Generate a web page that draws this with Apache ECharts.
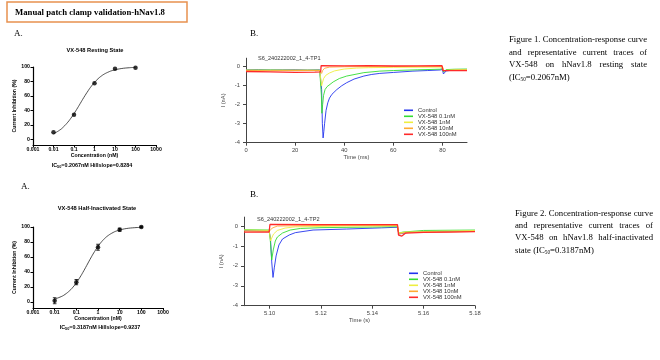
<!DOCTYPE html>
<html><head><meta charset="utf-8">
<script src="https://cdn.jsdelivr.net/npm/echarts@6/dist/echarts.min.js"></script>
<style>html,body{margin:0;padding:0;background:#fff}#c{width:660px;height:360px}</style>
</head><body><div id="c"></div><script>
// ---------- data ----------
const doseTickLabels = ['0.001','0.01','0.1','1','10','100','1000'];
const pctTicks = [0,20,40,60,80,100];
const restConc = [0.01,0.1,1,10,100];
const restInh = [9.5,34,77.5,97.5,99];
const halfConc = [0.01,0.1,1,10,100];
const halfInh = [1.7,26.5,73,96.5,100];
const halfErr = [4,3.5,4,2,0.8];
const fitConc = [0.01,0.02,0.03,0.05,0.07,0.1,0.15,0.2,0.3,0.5,0.7,1,1.5,2,3,5,7,10,20,50,100];
const restFit = [7.5,12.6,16.8,23.6,29,35.4,43.4,49.3,57.7,67.5,73.3,78.7,83.8,86.8,90.2,93.3,94.9,96.1,97.8,99,99.4];
const halfFit = [3.9,7.2,10.1,15.3,19.8,25.5,33.3,39.4,48.6,60.3,67.4,74.2,80.7,84.5,88.8,92.7,94.6,96,97.9,99.1,99.5];

const traceNames = ['Control','VX-548 0.1nM','VX-548 1nM','VX-548 10nM','VX-548 100nM'];
const currentTicks = [-4,-3,-2,-1,0];
const tp1TimeTicks = [0,20,40,60,80];
const tp2TimeTicks = [5.10,5.12,5.14,5.16,5.18];

const tp1Control = [[0,-0.16],[5,-0.15],[10,-0.17],[15,-0.16],[20,-0.15],[25,-0.17],[30,-0.16],[30.5,-0.18],[30.8,-1.2],[31.1,-3.0],[31.4,-3.75],[31.7,-3.4],[32,-3.0],[32.6,-2.3],[33.3,-1.9],[34,-1.65],[35,-1.45],[37,-1.2],[39,-1.0],[41,-0.84],[44,-0.65],[48,-0.49],[51,-0.41],[54.5,-0.35],[60,-0.3],[68,-0.23],[74,-0.2],[79,-0.17],[80,-0.15],[80.4,-0.38],[80.8,-0.3],[81.5,-0.22],[84,-0.18],[90,-0.18]];
const tp1Low = [[0,-0.18],[10,-0.17],[20,-0.19],[30,-0.18],[30.5,-0.2],[30.7,-1.5],[30.9,-2.45],[31.2,-2.0],[31.6,-1.5],[32.2,-1.2],[33,-1.05],[35.5,-0.8],[38,-0.62],[41,-0.49],[48,-0.31],[54.5,-0.23],[60,-0.2],[70,-0.16],[79,-0.13],[80,-0.1],[80.5,-0.28],[81.5,-0.15],[85,-0.13],[90,-0.12]];
const tp1Mid = [[0,-0.17],[10,-0.18],[20,-0.17],[30,-0.18],[30.5,-0.2],[30.8,-1.0],[31.1,-0.85],[31.6,-0.62],[32.5,-0.45],[34,-0.33],[36,-0.22],[40,-0.12],[45,-0.07],[50,-0.05],[60,-0.03],[79,-0.02],[80,-0.02],[80.5,-0.2],[85,-0.16],[90,-0.15]];
const tp1High = [[0,-0.2],[10,-0.21],[20,-0.2],[30,-0.2],[30.5,-0.2],[30.8,-0.35],[31.2,-0.2],[32,-0.08],[34,-0.02],[40,0.0],[60,0.01],[80,0.02],[80.5,-0.2],[85,-0.18],[90,-0.17]];
const tp1Max = [[0,-0.25],[10,-0.27],[20,-0.3],[28,-0.28],[30.4,-0.27],[30.6,0.06],[40,0.05],[50,0.06],[60,0.04],[70,0.05],[79.8,0.06],[80.2,-0.2],[85,-0.2],[90,-0.2]];

const tp2Control = [[5.09,-0.22],[5.095,-0.24],[5.0998,-0.25],[5.1003,-0.6],[5.1008,-1.8],[5.1013,-2.58],[5.1018,-2.1],[5.1025,-1.5],[5.1036,-0.95],[5.105,-0.65],[5.1076,-0.45],[5.11,-0.33],[5.1169,-0.2],[5.13,-0.15],[5.1435,-0.09],[5.1498,-0.06],[5.1503,-0.4],[5.151,-0.35],[5.155,-0.3],[5.165,-0.28],[5.18,-0.25]];
const tp2Low = [[5.09,-0.18],[5.0998,-0.2],[5.1003,-0.8],[5.1008,-1.7],[5.1014,-1.2],[5.1022,-0.75],[5.103,-0.55],[5.105,-0.35],[5.108,-0.2],[5.112,-0.12],[5.12,-0.08],[5.14,-0.05],[5.1498,-0.03],[5.1503,-0.35],[5.152,-0.3],[5.16,-0.22],[5.18,-0.2]];
const tp2Mid = [[5.09,-0.2],[5.0998,-0.22],[5.1004,-0.75],[5.1008,-0.6],[5.1015,-0.4],[5.103,-0.22],[5.106,-0.1],[5.11,-0.04],[5.13,0],[5.1498,0.01],[5.1503,-0.35],[5.153,-0.3],[5.17,-0.25],[5.18,-0.22]];
const tp2High = [[5.09,-0.25],[5.0998,-0.27],[5.1004,-0.3],[5.101,-0.1],[5.103,0.0],[5.12,0.03],[5.1498,0.03],[5.1503,-0.4],[5.153,-0.32],[5.18,-0.27]];
const tp2Max = [[5.09,-0.3],[5.0998,-0.3],[5.1001,0.08],[5.12,0.07],[5.1498,0.07],[5.1502,-0.45],[5.1515,-0.5],[5.153,-0.35],[5.16,-0.32],[5.17,-0.3],[5.18,-0.28]];

// ---------- styles ----------
const colors = ['#2233ee','#33dd33','#eeee40','#ffaa33','#ff2a2a'];
const SANS = '"Liberation Sans", Arial, sans-serif';
const SERIF = '"Liberation Serif", "Times New Roman", serif';
const ctx = document.createElement('canvas').getContext('2d');
function measure(t, font){ ctx.font = font; return ctx.measureText(t).width; }

function doseX(gi, nameGap){
  return {type:'log', gridIndex:gi, min:0.001, max:1000, logBase:10,
    axisLine:{show:true,onZero:false,lineStyle:{color:'#000',width:1.2}},
    axisTick:{show:true,length:2.5,lineStyle:{color:'#000',width:1}},
    axisLabel:{margin:2,fontSize:5.2,fontWeight:'bold',fontFamily:SANS,color:'#000',
      formatter:v=>doseTickLabels[Math.round(Math.log10(v))+3]},
    splitLine:{show:false}, minorTick:{show:false},
    name:'Concentration (nM)', nameLocation:'middle', nameGap:nameGap,
    nameTextStyle:{fontSize:5.2,fontWeight:'bold',fontFamily:SANS,color:'#000'}};
}
function doseY(gi){
  return {type:'value', gridIndex:gi, min:-8, max:100,
    axisLine:{show:true,onZero:false,lineStyle:{color:'#000',width:1.2}},
    axisTick:{show:true,length:2.5,customValues:pctTicks,lineStyle:{color:'#000',width:1}},
    axisLabel:{margin:3,fontSize:5.2,fontWeight:'bold',fontFamily:SANS,color:'#000',customValues:pctTicks},
    splitLine:{show:false},
    name:'Current Inhibition (%)', nameLocation:'middle', nameGap:14,
    nameTextStyle:{fontSize:5.2,fontWeight:'bold',fontFamily:SANS,color:'#000'}};
}
function traceX(gi, min, max, ticks, name, fmt){
  return {type:'value', gridIndex:gi, min:min, max:max,
    axisLine:{show:true,onZero:false,lineStyle:{color:'#444',width:1}},
    axisTick:{show:true,length:3,customValues:ticks,lineStyle:{color:'#444'}},
    axisLabel:{margin:5,fontSize:5.8,fontFamily:SANS,color:'#444',customValues:ticks,formatter:fmt},
    splitLine:{show:false},
    name:name, nameLocation:'middle', nameGap:10,
    nameTextStyle:{fontSize:5.8,fontFamily:SANS,color:'#444'}};
}
function traceY(gi){
  return {type:'value', gridIndex:gi, min:-4, max:0.45,
    axisLine:{show:true,onZero:false,lineStyle:{color:'#444',width:1}},
    axisTick:{show:true,length:3,customValues:currentTicks,lineStyle:{color:'#444'}},
    axisLabel:{margin:6,fontSize:5.8,fontFamily:SANS,color:'#444',customValues:currentTicks},
    splitLine:{show:false},
    name:'I (nA)', nameLocation:'middle', nameGap:20,
    nameTextStyle:{fontSize:5.8,fontFamily:SANS,color:'#444'}};
}

const series = [];
function doseSeries(ai, conc, inh, fit){
  series.push({type:'line', xAxisIndex:ai, yAxisIndex:ai, data:fitConc.map((c,i)=>[c,fit[i]]),
    showSymbol:false, smooth:true, lineStyle:{color:'#222',width:0.8}, silent:true, z:2});
  series.push({type:'scatter', xAxisIndex:ai, yAxisIndex:ai, data:conc.map((c,i)=>[c,inh[i]]),
    symbolSize:4.5, itemStyle:{color:'#000'}, silent:true, z:4});
}
doseSeries(0, restConc, restInh, restFit);
doseSeries(1, halfConc, halfInh, halfFit);
series.push({type:'custom', xAxisIndex:1, yAxisIndex:1, silent:true, z:3,
  data: halfConc.map((c,i)=>[c, halfInh[i]-halfErr[i], halfInh[i]+halfErr[i]]),
  encode:{x:0, y:[1,2]},
  renderItem(params, api){
    const x = api.value(0);
    const lo = api.coord([x, api.value(1)]);
    const hi = api.coord([x, api.value(2)]);
    const w = 1.8, st = {stroke:'#000', lineWidth:0.8};
    return {type:'group', children:[
      {type:'line', shape:{x1:lo[0],y1:lo[1],x2:hi[0],y2:hi[1]}, style:st},
      {type:'line', shape:{x1:lo[0]-w,y1:lo[1],x2:lo[0]+w,y2:lo[1]}, style:st},
      {type:'line', shape:{x1:hi[0]-w,y1:hi[1],x2:hi[0]+w,y2:hi[1]}, style:st}
    ]};
  }});
[[tp1Control,tp1Low,tp1Mid,tp1High,tp1Max],[tp2Control,tp2Low,tp2Mid,tp2High,tp2Max]].forEach((set,k)=>{
  set.forEach((d,i)=>{
    series.push({type:'line', name:traceNames[i], xAxisIndex:2+k, yAxisIndex:2+k, data:d,
      showSymbol:false, symbol:'none', lineStyle:{color:colors[i], width:i===4?1.3:0.9},
      itemStyle:{color:colors[i]}, z:5+i});
  });
});

// ---------- text graphics ----------
const g = [];
function txt(t, x, y, font, opt){
  g.push(Object.assign({type:'text', x:x, y:y, silent:true,
    style:Object.assign({text:t, font:font, fill:'#000', align:'left', verticalAlign:'middle'}, opt||{})}));
}
// header box
const headerText = 'Manual patch clamp validation-hNav1.8';
const hFs = 9 * 150 / measure(headerText, 'bold 9px '+SERIF);
g.push({type:'rect', shape:{x:7,y:2,width:180,height:20}, style:{fill:'#fff',stroke:'#e8914f',lineWidth:1.5}, silent:true});
txt(headerText, 15, 12.5, 'bold '+hFs.toFixed(2)+'px '+SERIF);
txt('A.', 14, 33.5, '9px '+SERIF);
txt('A.', 21, 187, '9px '+SERIF);
txt('B.', 250, 33.5, '9px '+SERIF);
txt('B.', 250, 195, '9px '+SERIF);
txt('VX-548 Resting State', 95, 50, 'bold 5.7px '+SANS, {align:'center'});
txt('VX-548 Half-Inactivated State', 97, 208, 'bold 5.7px '+SANS, {align:'center'});
const icRich = {s:{font:'bold 3.8px '+SANS, verticalAlign:'bottom', lineHeight:4}};
txt('IC{s|50}=0.2067nM Hillslope=0.8284', 92, 166, 'bold 5.4px '+SANS, {align:'center', rich:icRich});
txt('IC{s|50}=0.3187nM Hillslope=0.9237', 100, 328, 'bold 5.4px '+SANS, {align:'center', rich:icRich});
txt('S6_240222002_1_4-TP1', 258, 58.5, '5.6px '+SANS, {fill:'#333'});
txt('S6_240222002_1_4-TP2', 257, 219, '5.6px '+SANS, {fill:'#333'});

// justified captions
const cap1 = ['Figure 1. Concentration-response curve','and representative current traces of','VX-548 on hNav1.8 resting state','(IC{s|50}=0.2067nM)'];
const cap2 = ['Figure 2. Concentration-response curve','and representative current traces of','VX-548 on hNav1.8 half-inactivated','state (IC{s|50}=0.3187nM)'];
function caption(lines, x0, width, y0, dy){
  const fs = 8 * width / measure(lines[0], '8px '+SERIF);
  const font = fs.toFixed(2)+'px '+SERIF;
  lines.forEach((ln, li)=>{
    const y = y0 + li*dy;
    if (li === lines.length-1) {
      txt(ln, x0, y, font, {rich:{s:{font:(fs*0.6).toFixed(2)+'px '+SERIF, verticalAlign:'bottom', lineHeight:fs*0.6}}});
      return;
    }
    const words = ln.split(' ');
    const ws = words.map(w=>measure(w, font));
    const gap = (width - ws.reduce((a,b)=>a+b,0)) / (words.length-1);
    let x = x0;
    words.forEach((w,i)=>{ txt(w, x, y, font); x += ws[i] + gap; });
  });
}
caption(cap1, 509, 138, 39.5, 12.8);
caption(cap2, 515, 138, 213.5, 12.3);

const legendBase = {data:traceNames, orient:'vertical', icon:'rect', itemWidth:9, itemHeight:1.6, itemGap:0,
  padding:0, selectedMode:false, textStyle:{fontSize:5.8, lineHeight:6, fontFamily:SANS, color:'#333'}};

const chart = echarts.init(document.getElementById('c'), null, {renderer:'canvas'});
chart.setOption({
  animation:false,
  backgroundColor:'#fff',
  grid:[
    {left:33, top:67, width:123, height:78},
    {left:33, top:227, width:130, height:81},
    {left:246, top:58.2, width:221, height:84.5},
    {left:244, top:217.1, width:231, height:88.6}
  ],
  xAxis:[doseX(0,7.5), doseX(1,8.5),
    traceX(2,0,90,tp1TimeTicks,'Time (ms)',v=>String(v)),
    traceX(3,5.09,5.18,tp2TimeTicks,'Time (s)',v=>v.toFixed(2))],
  yAxis:[doseY(0), doseY(1), traceY(2), traceY(3)],
  legend:[Object.assign({left:404, top:107.3}, legendBase), Object.assign({left:409, top:270.3}, legendBase)],
  series:series,
  graphic:{elements:g}
});
</script></body></html>
